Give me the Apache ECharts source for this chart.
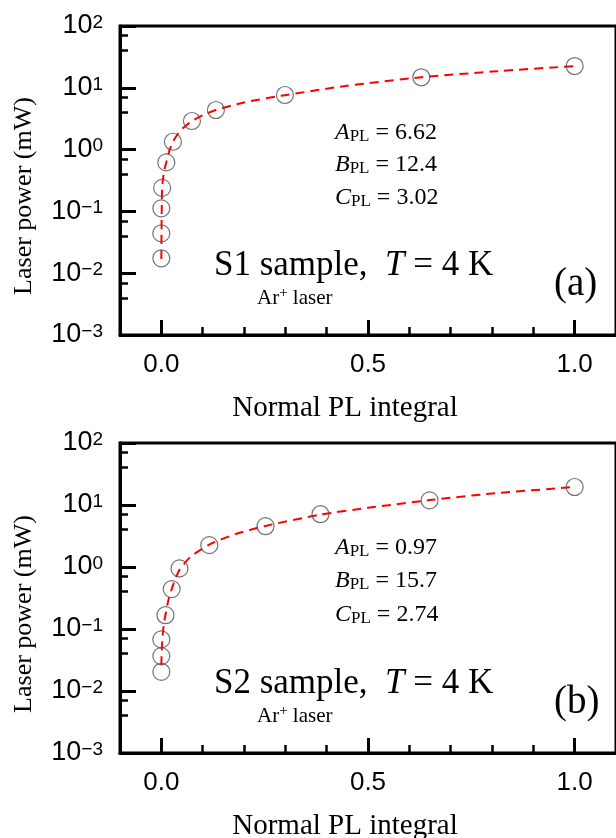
<!DOCTYPE html>
<html><head><meta charset="utf-8">
<script src="https://cdn.jsdelivr.net/npm/echarts@6/dist/echarts.min.js"></script>
<style>html,body{margin:0;padding:0;background:#fff}#c{width:616px;height:838px}</style>
</head><body><div id="c"></div>
<script>
// ---- tick values ----
const xMajorTicks = [0, 0.5, 1.0];
const xMinorTicks = [0.1, 0.2, 0.3, 0.4, 0.6, 0.7, 0.8, 0.9];
const yMinorTicks = [0.004, 0.007, 0.04, 0.07, 0.4, 0.7, 4, 7, 40, 70];

// ---- panel (a): S1 sample ----
const s1X = [0, 0, 0, 0.002, 0.012, 0.028, 0.074, 0.132, 0.299, 0.629, 1.0];
const s1Y = [0.0174, 0.044, 0.112, 0.24, 0.62, 1.34, 2.9, 4.37, 7.64, 14.8, 22.5];
const s1FitX = [0, 0.0005, 0.001, 0.002, 0.006, 0.012, 0.02, 0.028, 0.045, 0.074, 0.1, 0.132, 0.2, 0.299, 0.45, 0.629, 0.8, 1.0];
const s1FitY = [0.017, 0.05, 0.11, 0.24, 0.42, 0.62, 0.98, 1.34, 2.0, 2.9, 3.6, 4.37, 5.8, 7.6, 10.8, 14.8, 18.3, 22.5];
const s1Params = ['6.62', '12.4', '3.02'];

// ---- panel (b): S2 sample ----
const s2X = [0, 0, 0, 0.01, 0.025, 0.044, 0.116, 0.252, 0.385, 0.649, 1.0];
const s2Y = [0.0204, 0.0366, 0.068, 0.167, 0.44, 0.95, 2.25, 4.55, 7.1, 11.9, 19.5];
const s2FitX = [0, 0.001, 0.003, 0.006, 0.01, 0.017, 0.025, 0.035, 0.044, 0.07, 0.116, 0.18, 0.252, 0.385, 0.5, 0.649, 0.8, 1.0];
const s2FitY = [0.026, 0.045, 0.075, 0.12, 0.17, 0.29, 0.44, 0.67, 0.9, 1.45, 2.3, 3.4, 4.6, 7.0, 9.0, 12.0, 15.3, 19.5];
const s2Params = ['0.97', '15.7', '2.74'];

const zip = (a, b) => a.map((v, i) => [v, b[i]]);
const SANS = '"Liberation Sans", Arial, sans-serif';
const SERIF = '"Liberation Serif", "Times New Roman", serif';

function xAxes(gi) {
  return [{
    type: 'value', gridIndex: gi, position: 'bottom', min: -0.1, max: 1.1,
    axisLine: { show: true, onZero: false, lineStyle: { color: '#000', width: 3 } },
    axisTick: { show: true, inside: true, length: 15, lineStyle: { color: '#000', width: 3 }, customValues: xMajorTicks },
    axisLabel: { show: true, customValues: xMajorTicks, formatter: v => v.toFixed(1), color: '#000', fontSize: 26, fontFamily: SANS, margin: 17 },
    splitLine: { show: false }
  }, {
    type: 'value', gridIndex: gi, position: 'bottom', min: -0.1, max: 1.1,
    axisLine: { show: false, onZero: false },
    axisTick: { show: true, inside: true, length: 8, lineStyle: { color: '#000', width: 2.5 }, customValues: xMinorTicks },
    axisLabel: { show: false },
    splitLine: { show: false }
  }];
}
function yAxes(gi) {
  return [{
    type: 'log', logBase: 10, gridIndex: gi, position: 'left', min: 0.001, max: 100,
    axisLine: { show: true, onZero: false, lineStyle: { color: '#000', width: 3 } },
    axisTick: { show: true, inside: true, length: 16, lineStyle: { color: '#000', width: 3 } },
    axisLabel: {
      show: true, margin: 17,
      formatter: v => { const e = Math.round(Math.log10(v)); return '{b|10}{s|' + (e < 0 ? '\u2212' + (-e) : e) + '}'; },
      rich: {
        b: { fontSize: 27, fontFamily: SANS, color: '#000', lineHeight: 26 },
        s: { fontSize: 19, fontFamily: SANS, color: '#000', lineHeight: 11, verticalAlign: 'top' }
      }
    },
    splitLine: { show: false }
  }, {
    type: 'log', logBase: 10, gridIndex: gi, position: 'left', min: 0.001, max: 100,
    axisLine: { show: false, onZero: false },
    axisTick: { show: true, inside: true, length: 8, lineStyle: { color: '#000', width: 2.5 }, customValues: yMinorTicks },
    axisLabel: { show: false },
    splitLine: { show: false }
  }];
}

function seriesFor(xi, fitX, fitY, px, py) {
  return [{
    type: 'line', xAxisIndex: xi, yAxisIndex: xi, data: zip(fitX, fitY), showSymbol: false, smooth: 0.2,
    lineStyle: { color: '#ff0000', width: 2, type: [9, 6] }, z: 2
  }, {
    type: 'scatter', xAxisIndex: xi, yAxisIndex: xi, data: zip(px, py), symbol: 'circle', symbolSize: 17,
    itemStyle: { color: 'rgba(0,0,0,0)', borderColor: '#505050', borderWidth: 1.2 }, z: 3
  }];
}

const richAnn = {
  i: { fontSize: 24, fontFamily: SERIF, fontStyle: 'italic', color: '#000', lineHeight: 24 },
  sub: { fontSize: 17, fontFamily: SERIF, color: '#000', lineHeight: 14, verticalAlign: 'bottom' },
  n: { fontSize: 24, fontFamily: SERIF, color: '#000', lineHeight: 24 }
};
const richTitle = {
  n: { fontSize: 35, fontFamily: SERIF, color: '#000', lineHeight: 35 },
  i: { fontSize: 35, fontFamily: SERIF, fontStyle: 'italic', color: '#000', lineHeight: 35 }
};
const richAr = {
  n: { fontSize: 21, fontFamily: SERIF, color: '#000', lineHeight: 24 },
  sup: { fontSize: 15, fontFamily: SERIF, color: '#000', lineHeight: 6, verticalAlign: 'top' }
};
function txt(x, y, text, rich, extra) {
  return Object.assign({ type: 'text', x: x, y: y, z: 10,
    style: { text: text, rich: rich, align: 'left', verticalAlign: 'middle', fill: '#000' } }, extra || {});
}
function plain(x, y, text, font, align, extra) {
  return Object.assign({ type: 'text', x: x, y: y, z: 10,
    style: { text: text, font: font, align: align, verticalAlign: 'middle', fill: '#000' } }, extra || {});
}
const names = ['A', 'B', 'C'];
function panelTexts(dy, params, sample, letter, annY) {
  const g = [];
  params.forEach((p, k) => g.push(txt(335, annY[k], '{i|' + names[k] + '}{sub|PL}{n| = ' + p + '}', richAnn)));
  g.push(txt(214, 266 + dy, '{n|' + sample + ' sample,  }{i|T}{n| = 4 K}', richTitle));
  g.push(txt(257, 298 + dy, '{n|Ar}{sup|+}{n| laser}', richAr));
  g.push(plain(554, 285 + dy, letter, '39px ' + SERIF, 'left'));
  g.push(plain(345, 408 + dy, 'Normal PL integral', '29px ' + SERIF, 'center'));
  g.push(plain(24, 196 + dy, 'Laser power (mW)', '26px ' + SERIF, 'center', { rotation: Math.PI / 2 }));
  return g;
}

const chart = echarts.init(document.getElementById('c'), null, { renderer: 'canvas' });
chart.setOption({
  animation: false,
  backgroundColor: '#fff',
  grid: [
    { left: 120, top: 26, width: 499, height: 309, show: true, borderColor: '#000', borderWidth: 3, backgroundColor: 'transparent' },
    { left: 120, top: 443, width: 499, height: 310, show: true, borderColor: '#000', borderWidth: 3, backgroundColor: 'transparent' }
  ],
  xAxis: [].concat(xAxes(0), xAxes(1)),
  yAxis: [].concat(yAxes(0), yAxes(1)),
  series: [].concat(seriesFor(0, s1FitX, s1FitY, s1X, s1Y), seriesFor(2, s2FitX, s2FitY, s2X, s2Y)),
  graphic: [].concat(
    panelTexts(0, s1Params, 'S1', '(a)', [133, 165, 198]),
    panelTexts(418, s2Params, 'S2', '(b)', [548, 581, 615])
  )
});
</script></body></html>
